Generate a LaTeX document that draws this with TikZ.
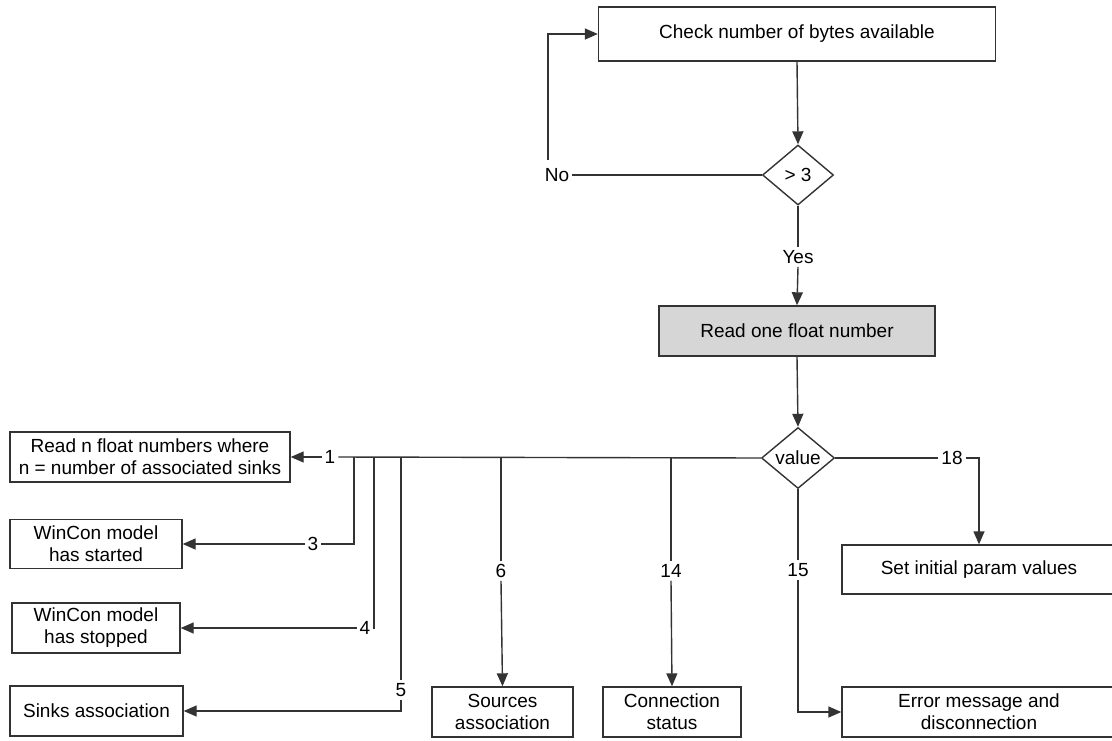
\documentclass[tikz,border=0pt]{standalone}
\usepackage{fontspec}
\setmainfont{Liberation Sans}
\usetikzlibrary{shapes.geometric,arrows.meta}
\begin{document}
\begin{tikzpicture}[x=1pt,y=-1pt,
  every node/.style={font=\fontsize{19}{22}\selectfont, text=black},
  line/.style={draw=black!80, line width=1.4pt},
  arr/.style={line, -{Triangle[length=13pt,width=11pt]}},
  box/.style={draw=black!80, line width=1.4pt, inner sep=0pt, align=center},
  dec/.style={draw=black!80, line width=1.4pt, shape=diamond, aspect=1.2, inner sep=0pt},
  lab/.style={inner sep=3pt}]
\useasboundingbox (0,0) rectangle (1112,740);

% main flow
\node[box, minimum width=397pt, minimum height=54pt] (check) at (797,34) {Check number of bytes available};
\node[dec, minimum width=71pt, minimum height=60pt] (gt) at (798,175) {> 3};
\node[lab] (no) at (557,175) {No};
\node[lab] (yes) at (798,257) {Yes};
\node[box, fill=gray!32, minimum width=276pt, minimum height=50pt] (readone) at (797,331) {Read one float number};
\node[dec, minimum width=73pt, minimum height=61pt] (value) at (798,458) {value};

% outcome boxes
\node[box, minimum width=280pt, minimum height=50pt] (readn) at (150,457) {Read n float numbers where\\n = number of associated sinks};
\node[box, minimum width=172pt, minimum height=49pt] (started) at (96,544) {WinCon model\\has started};
\node[box, minimum width=168pt, minimum height=50pt] (stopped) at (96,628) {WinCon model\\has stopped};
\node[box, minimum width=173pt, minimum height=50pt] (sinks) at (96.5,711) {Sinks association};
\node[box, minimum width=141pt, minimum height=50pt] (sources) at (502.5,712) {Sources\\association};
\node[box, minimum width=138pt, minimum height=50pt] (conn) at (672,712) {Connection\\status};
\node[box, minimum width=274pt, minimum height=49pt] (setinit) at (979,569.5) {Set initial param values};
\node[box, minimum width=274pt, minimum height=50pt] (error) at (979,712) {Error message and\\disconnection};

% case labels
\node[lab] (l1) at (330,457) {1};
\node[lab] (l3) at (313,544) {3};
\node[lab] (l4) at (365,628) {4};
\node[lab] (l5) at (401,690) {5};
\node[lab] (l6) at (501,571) {6};
\node[lab] (l14) at (671,571) {14};
\node[lab] (l15) at (798,570) {15};
\node[lab] (l18) at (952,458) {18};

% branch points on the value line
\coordinate (b3) at (354,457);
\coordinate (b4) at (374,457);
\coordinate (b5) at (401,457);
\coordinate (b6) at (501,457);
\coordinate (b14) at (671,457);

% polling loop
\draw[arr] (check.south) -- (gt.north);
\draw[line] (gt.west) -- (no.east);
\draw[arr] ([xshift=-9pt,yshift=5pt]no.north) |- (check.west);
\draw[line] (gt.south) -- (yes.north);
\draw[arr] (yes.south) -- (readone.north);
\draw[arr] (readone.south) -- (value.north);

% value dispatch
\draw[line] (value.west) -- (l1.east);
\draw[arr] (l1.west) -- (readn.east);
\draw[line] (b3) |- (l3.east);
\draw[arr] (l3.west) -- (started.east);
\draw[line] (b4) |- (l4.east);
\draw[arr] (l4.west) -- (stopped.east);
\draw[line] (b5) -- (l5.north);
\draw[arr] (l5.south) |- (sinks.east);
\draw[line] (b6) -- (l6.north);
\draw[arr] (l6.south) -- (sources.north);
\draw[line] (b14) -- (l14.north);
\draw[arr] (l14.south) -- (conn.north);
\draw[line] (value.south) -- (l15.north);
\draw[arr] (l15.south) |- (error.west);
\draw[line] (value.east) -- (l18.west);
\draw[arr] (l18.east) -| (setinit.north);
\end{tikzpicture}
\end{document}
